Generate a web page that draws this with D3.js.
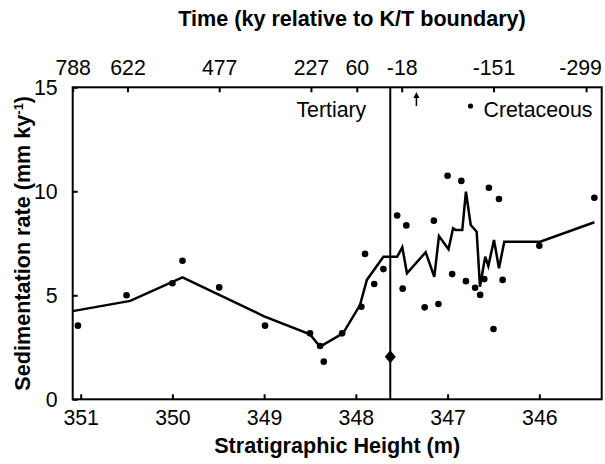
<!DOCTYPE html>
<html>
<head>
<meta charset="utf-8">
<script src="https://cdn.jsdelivr.net/npm/d3@7"></script>
<style>
  html, body { margin: 0; padding: 0; background: #fff; }
  svg { display: block; }
  text { font-family: "Liberation Sans", Arial, sans-serif; fill: #000; }
</style>
</head>
<body>
<svg id="chart" width="605" height="464"></svg>
<script>
// ---- data ----
const bottomTicks = [351, 350, 349, 348, 347, 346];
const rateTicks = [0, 5, 10, 15];
const timeTickHeights = [351.087, 350.49, 349.49, 348.49, 347.99, 347.5, 346.5, 345.49];
const timeTickLabels = ["788", "622", "477", "227", "60", "-18", "-151", "-299"];

// scattered measurements: stratigraphic height (m), sedimentation rate (mm/ky)
const dotHeights = [351.03, 350.50, 350.00, 349.89, 349.49, 348.99, 348.50, 348.39, 348.35, 348.15,
  347.94, 347.90, 347.80, 347.70, 347.55, 347.45, 347.49, 347.25, 347.10, 347.15,
  347.00, 346.85, 346.95, 346.80, 346.70, 346.645, 346.60, 346.55, 346.44, 346.40,
  346.50, 346.00, 345.40];
const dotRates = [3.54, 5.00, 5.58, 6.66, 5.38, 3.54, 3.17, 2.56, 1.81, 3.17,
  4.45, 6.99, 5.54, 6.26, 8.84, 8.36, 5.32, 4.42, 4.58, 8.59,
  10.75, 10.50, 6.02, 5.68, 5.36, 5.02, 5.78, 10.17, 9.63, 5.74,
  3.38, 7.38, 9.69];

// smoothed curve
const lineHeights = [351.087, 350.46, 349.89, 349.0, 348.50, 348.39, 348.14, 347.955, 347.88, 347.70,
  347.55, 347.494, 347.443, 347.239, 347.145, 347.094, 346.99, 346.94, 346.91, 346.84,
  346.80, 346.748, 346.70, 346.683, 346.647, 346.59, 346.556, 346.494, 346.44, 346.382,
  345.99, 345.40];
const lineRates = [4.24, 4.73, 5.86, 3.99, 3.12, 2.53, 3.17, 4.53, 5.74, 6.85,
  6.85, 7.31, 6.06, 7.07, 5.89, 7.85, 7.21, 8.22, 8.14, 8.14,
  9.98, 8.38, 8.14, 8.06, 5.41, 6.86, 6.41, 7.66, 6.30, 7.58,
  7.58, 8.51];

// annotations
const boundaryHeight = 347.625;
const diamondPoint = [347.625, 2.05];
const arrowHeight = 347.34;
const arrowRates = [14.1, 14.78];
const legendPoint = [346.75, 14.1];

// ---- layout ----
const svg = d3.select("#chart");
const L = 72.7, R = 601.7, T = 87.3, B = 399.3;
const x = d3.scaleLinear().domain([351.087, 345.32]).range([L, R]);
const y = d3.scaleLinear().domain([0, 15]).range([B, T]);
const FS = 21.3;
const FT = 21.6;

// axes
const gBottom = svg.append("g").attr("transform", `translate(0,${B})`)
  .call(d3.axisBottom(x).tickValues(bottomTicks).tickFormat(d3.format("d"))
    .tickSizeInner(-5).tickSizeOuter(0).tickPadding(11));
const gTop = svg.append("g").attr("transform", `translate(0,${T})`)
  .call(d3.axisTop(x).tickValues(timeTickHeights)
    .tickFormat((d, i) => timeTickLabels[i])
    .tickSizeInner(-5).tickSizeOuter(0).tickPadding(12));
const gLeft = svg.append("g").attr("transform", `translate(${L},0)`)
  .call(d3.axisLeft(y).tickValues(rateTicks).tickSizeInner(-5).tickSizeOuter(0).tickPadding(15));

[gBottom, gTop, gLeft].forEach(g => {
  g.select(".domain").remove();
  g.selectAll(".tick line").attr("stroke", "#000").attr("stroke-width", 2);
  g.selectAll(".tick text").attr("font-size", FS).attr("font-family", "Liberation Sans, Arial, sans-serif").attr("fill", "#000");
});
// last time label sits slightly left of its tick so it stays inside the picture
gTop.selectAll(".tick text").filter((d, i) => i === timeTickLabels.length - 1).attr("dx", -6);

// frame
svg.append("rect").attr("x", L).attr("y", T).attr("width", R - L).attr("height", B - T)
  .attr("fill", "none").attr("stroke", "#000").attr("stroke-width", 2);

// K/T boundary
svg.append("line").attr("x1", x(boundaryHeight)).attr("x2", x(boundaryHeight))
  .attr("y1", T).attr("y2", B).attr("stroke", "#000").attr("stroke-width", 2);

// curve
const lineData = lineHeights.map((h, i) => [h, lineRates[i]]);
svg.append("path").datum(lineData)
  .attr("d", d3.line().x(d => x(d[0])).y(d => y(d[1])))
  .attr("fill", "none").attr("stroke", "#000").attr("stroke-width", 2.5)
  .attr("stroke-linejoin", "miter");

// dots
const dotData = dotHeights.map((h, i) => [h, dotRates[i]]);
svg.append("g").selectAll("circle").data(dotData).join("circle")
  .attr("cx", d => x(d[0])).attr("cy", d => y(d[1])).attr("r", 3.3).attr("fill", "#000");

// diamond
const dx0 = x(diamondPoint[0]), dy0 = y(diamondPoint[1]);
svg.append("path")
  .attr("d", `M${dx0},${dy0 - 6.5} L${dx0 + 5.5},${dy0} L${dx0},${dy0 + 6.5} L${dx0 - 5.5},${dy0} Z`)
  .attr("fill", "#000");

// arrow
const ax = x(arrowHeight);
svg.append("line").attr("x1", ax).attr("x2", ax)
  .attr("y1", y(arrowRates[0])).attr("y2", y(arrowRates[1]) + 4)
  .attr("stroke", "#000").attr("stroke-width", 1.5);
svg.append("path")
  .attr("d", `M${ax},${y(arrowRates[1])} L${ax - 3},${y(arrowRates[1]) + 6} L${ax + 3},${y(arrowRates[1]) + 6} Z`)
  .attr("fill", "#000");

// labels in plot
svg.append("text").attr("x", x(boundaryHeight) - 24).attr("y", 116.7)
  .attr("text-anchor", "end").attr("font-size", FS).text("Tertiary");
svg.append("circle").attr("cx", x(legendPoint[0])).attr("cy", y(legendPoint[1])).attr("r", 2.6).attr("fill", "#000");
svg.append("text").attr("x", x(legendPoint[0]) + 13).attr("y", 116.7)
  .attr("font-size", FS).text("Cretaceous");

// axis titles
svg.append("text").attr("x", 352).attr("y", 26).attr("text-anchor", "middle")
  .attr("font-size", FT).attr("font-weight", "bold").text("Time (ky relative to K/T boundary)");
svg.append("text").attr("x", (L + R) / 2).attr("y", 453).attr("text-anchor", "middle")
  .attr("font-size", FT).attr("font-weight", "bold").text("Stratigraphic Height (m)");

const yt = svg.append("text").attr("transform", `translate(30,${(T + B) / 2}) rotate(-90)`)
  .attr("text-anchor", "middle").attr("font-size", FT).attr("font-weight", "bold");
yt.append("tspan").text("Sedimentation rate (mm ky");
yt.append("tspan").attr("dy", -7).attr("font-size", 13).text("-1");
yt.append("tspan").attr("dy", 7).text(")");
</script>
</body>
</html>
